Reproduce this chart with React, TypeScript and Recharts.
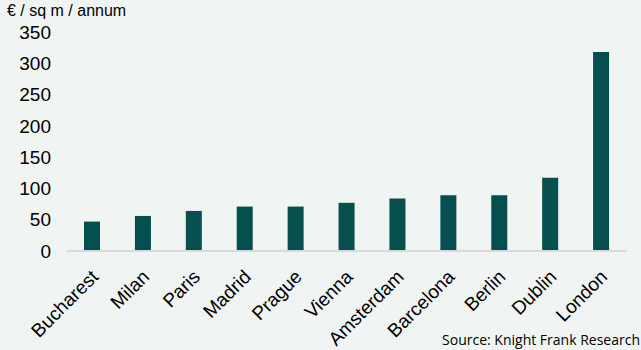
import { BarChart, Bar, XAxis, YAxis } from 'recharts';

const cities = [
  'Bucharest',
  'Milan',
  'Paris',
  'Madrid',
  'Prague',
  'Vienna',
  'Amsterdam',
  'Barcelona',
  'Berlin',
  'Dublin',
  'London',
];
const rents = [47, 56, 64, 71, 71, 77, 84, 89, 89, 117, 318];
const yTicks = [0, 50, 100, 150, 200, 250, 300, 350];

const data = cities.map((city, i) => ({ city, rent: rents[i] }));

const BG = '#F0F4F3';
const BAR = '#064F4F';

interface TickProps {
  x: number;
  y: number;
  payload: { value: string };
}

const CityTick = ({ x, y, payload }: TickProps) => {
  const ax = x + 7;
  const ay = y + 19;
  return (
    <text
      x={ax}
      y={ay}
      transform={`rotate(-45 ${ax} ${ay})`}
      textAnchor="end"
      fill="#000"
      fontSize={19}
      fontFamily="'Liberation Sans', Arial, sans-serif"
    >
      {payload.value}
    </text>
  );
};

export default function App() {
  return (
    <div
      style={{
        position: 'fixed',
        left: 0,
        top: 0,
        width: 641,
        height: 350,
        background: BG,
        fontFamily: "'Liberation Sans', Arial, sans-serif",
      }}
    >
      <BarChart
        width={641}
        height={350}
        data={data}
        margin={{ top: 32, right: 14, bottom: 0, left: 7 }}
      >
        <XAxis
          dataKey="city"
          interval={0}
          height={99}
          tickLine={false}
          axisLine={{ stroke: '#D9D9D9', strokeWidth: 2 }}
          tick={CityTick}
        />
        <YAxis
          width={60}
          domain={[0, 350]}
          ticks={yTicks}
          axisLine={false}
          tickLine={false}
          tickSize={0}
          tickMargin={16}
          tick={{ fill: '#000', fontSize: 19 }}
        />
        <Bar dataKey="rent" fill={BAR} barSize={16} isAnimationActive={false} />
      </BarChart>
      <svg
        width={641}
        height={350}
        style={{ position: 'absolute', left: 0, top: 0, pointerEvents: 'none' }}
      >
        <text x={7} y={16} fontSize={16} fill="#000">
          € / sq m / annum
        </text>
        <text
          x={640}
          y={345}
          textAnchor="end"
          fontSize={14}
          fill="#000"
          fontFamily="'Open Sans', sans-serif"
        >
          Source: Knight Frank Research
        </text>
      </svg>
    </div>
  );
}
